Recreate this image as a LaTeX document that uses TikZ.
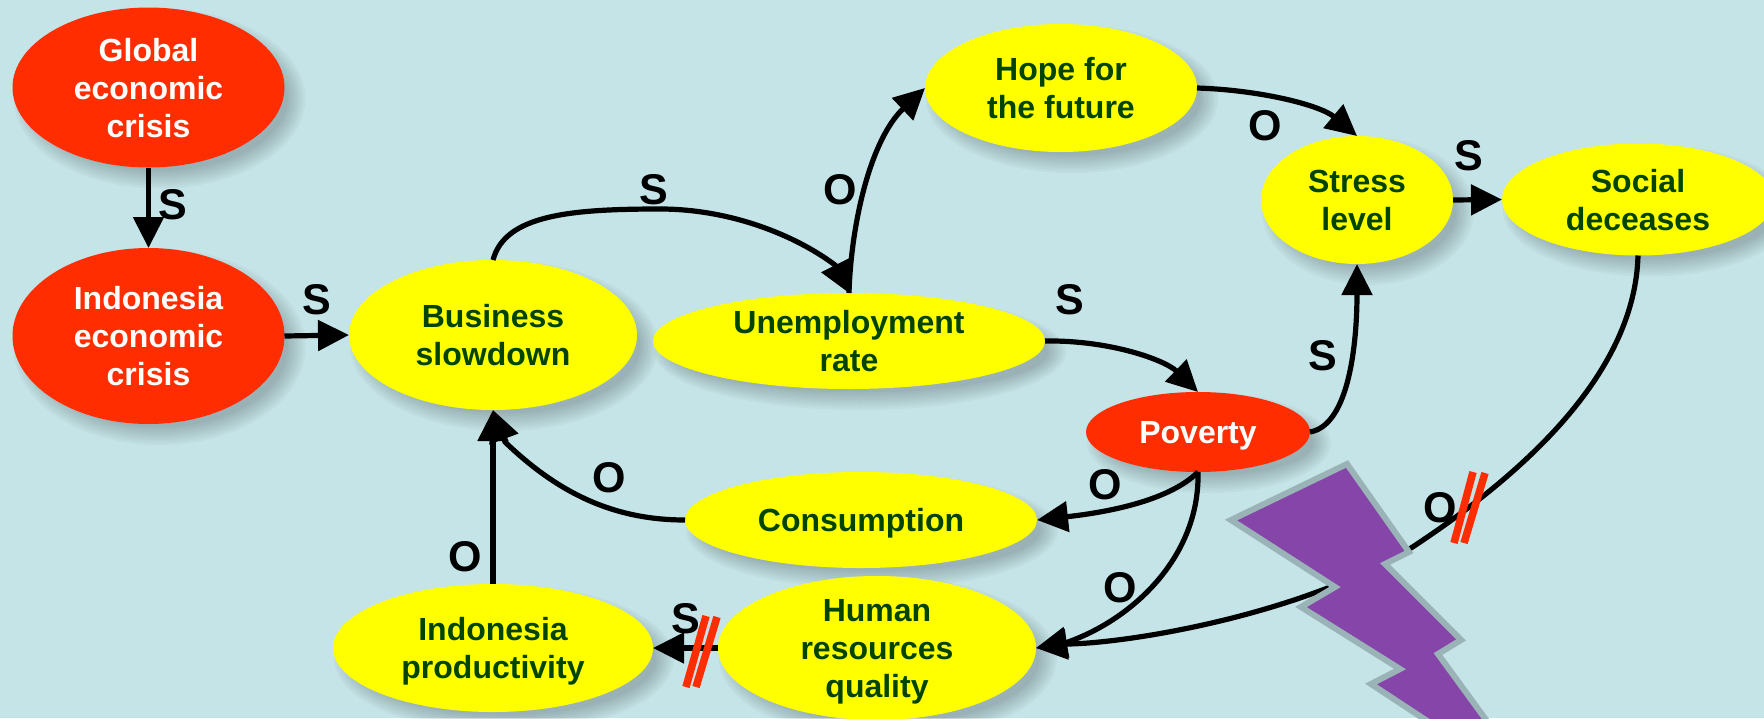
\documentclass[tikz,border=0pt]{standalone}
\usepackage{fontspec}
\setmainfont{Liberation Sans}
\usetikzlibrary{arrows.meta,shapes.geometric,backgrounds}
\definecolor{bgc}{HTML}{C5E4E7}
\definecolor{redn}{HTML}{FF2D00}
\definecolor{yeln}{HTML}{FFFF00}
\definecolor{grn}{HTML}{004400}
\definecolor{boltf}{HTML}{8545A9}
\definecolor{boltd}{HTML}{9AB3B6}
\tikzset{
  x=1pt,y=-1pt,
  ell/.style={ellipse,inner sep=0pt,outer sep=0pt,font=\bfseries\fontsize{32}{38}\selectfont},
  rednode/.style={ell,fill=redn,text=white},
  yelnode/.style={ell,fill=yeln,text=grn},
  conn/.style={line width=5.2pt,-{Triangle[width=30pt,length=31pt]}},
  sign/.style={inner sep=0pt,font=\bfseries\fontsize{43}{43}\selectfont,text=black},
  stopbar/.style={line width=7.5pt,draw=redn},
}
\newcommand{\ellnode}[7]{% name x y rx ry style text
  \begin{pgfonlayer}{background}
    \foreach \dd in {10,7.5,5,2.5,0,-2.5,-5,-7.5}
      \fill[black,opacity=.026] ({#2+11},{#3+11}) ellipse [x radius={(#4+\dd)*1pt},y radius={(#5+\dd)*1pt}];
  \end{pgfonlayer}
  \node[#6,minimum width=#4*2pt,minimum height=#5*2pt] (#1) at (#2,#3)
    {\smash{\makebox[0pt]{\raisebox{-10.5pt}{\begin{tabular}{@{}c@{}}#7\end{tabular}}}}};
}
\begin{document}
\begin{tikzpicture}
\useasboundingbox (0,0) rectangle (1764,718);
\begin{pgfonlayer}{background}
  \fill[bgc] (0,0) rectangle (1764,718);
\end{pgfonlayer}
\ellnode{glob}{148.5}{87.5}{136}{80}{rednode}{Global\\economic\\crisis}
\ellnode{indo}{148.5}{336}{136}{88}{rednode}{Indonesia\\economic\\crisis}
\ellnode{biz}{493}{335}{144}{75}{yelnode}{Business\\slowdown}
\ellnode{unemp}{849}{341}{196}{48}{yelnode}{Unemployment\\rate}
\ellnode{hope}{1061}{88}{136}{64}{yelnode}{Hope for\\the future}
\ellnode{stress}{1357}{200}{96}{64}{yelnode}{Stress\\level}
\ellnode{social}{1638}{199.5}{136}{56}{yelnode}{Social\\deceases}
\ellnode{pov}{1198}{432}{112}{40}{rednode}{Poverty}
\ellnode{cons}{861}{520}{176}{48}{yelnode}{Consumption}
\ellnode{human}{877}{648}{159}{72}{yelnode}{Human\\resources\\quality}
\ellnode{prod}{493}{648}{160}{64}{yelnode}{Indonesia\\productivity}

\draw[conn] (glob.south) -- (indo.north);
\draw[conn] (indo.east) -- (biz.west);
\draw[conn] (biz.north) .. controls (505,215) and (570,209) .. (660,209) .. controls (730,209) and (795,235) .. (835,265) -- (unemp.north);
\draw[conn] (unemp.north) .. controls (851,225) and (870,140) .. (hope.west);
\draw[conn] (hope.east) .. controls (1260,90) and (1320,105) .. (stress.north);
\draw[conn] (stress.east) -- (social.west);
\draw[conn] (unemp.east) .. controls (1110,340) and (1165,360) .. (pov.north);
\draw[conn] (pov.east) .. controls (1350,425) and (1357,340) .. (stress.south);
\draw[conn] (pov.south) .. controls (1170,500) and (1110,512) .. (cons.east);
\draw[conn] (pov.south) .. controls (1200,555) and (1135,618) .. (1068,642) -- (human.east);
\draw[conn] (social.south) .. controls (1635,370) and (1530,470) .. (1411,548) .. controls (1300,615) and (1130,643) .. (1068,644) -- (human.east);
\draw[conn] (human.west) -- (prod.east);
\draw[conn] (cons.west) .. controls (610,520) and (555,490) .. (505,442) -- (biz.south);
\draw[conn] (prod.north) -- (biz.south);

\draw[fill=boltf,draw=boltd,line width=6pt,miter limit=10]
  (1347,464) -- (1409,552) -- (1385,564) -- (1461,640) -- (1438,654) -- (1500,739) -- (1450,736) -- (1371,684) -- (1400,669) -- (1301,607) -- (1335,587) -- (1231,520) -- cycle;

\draw[stopbar] (1473,472) -- (1454,543);
\draw[stopbar] (1485,473) -- (1464,543);
\draw[stopbar] (706,616) -- (686,687);
\draw[stopbar] (717,617) -- (696,687);

\node[sign] (s1) at (173,205) {S};
\node[sign] (s2) at (317,300) {S};
\node[sign] (s3) at (654,190) {S};
\node[sign] (o1) at (840,190) {O};
\node[sign] (o2) at (1265,126) {O};
\node[sign] (s4) at (1469,156) {S};
\node[sign] (s5) at (1070,300) {S};
\node[sign] (s6) at (1323,356) {S};
\node[sign] (o3) at (1105,485) {O};
\node[sign] (o4) at (609,478) {O};
\node[sign] (o5) at (465,557) {O};
\node[sign] (o6) at (1120,588) {O};
\node[sign] (s7) at (686,619) {S};
\node[sign] (o7) at (1440,508) {O};
\end{tikzpicture}
\end{document}
